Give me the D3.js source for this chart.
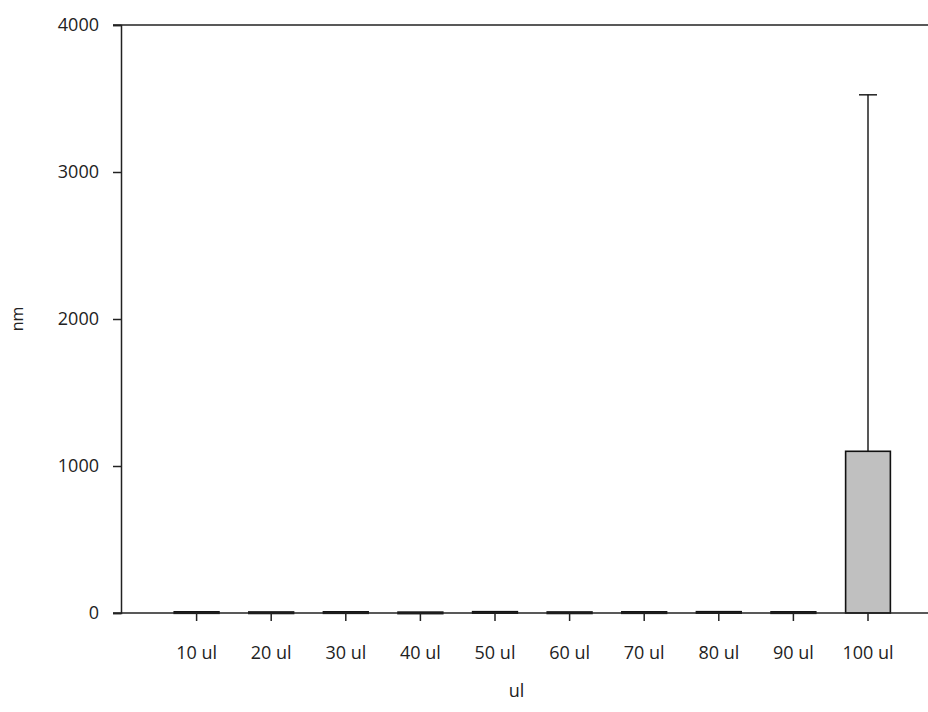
<!DOCTYPE html>
<html>
<head>
<meta charset="utf-8">
<script src="https://cdn.jsdelivr.net/npm/d3@7"></script>
<style>
  html, body { margin: 0; padding: 0; background: #fff; }
  svg text { font-family: "Open Sans", "Liberation Sans", sans-serif; fill: #222; }
</style>
</head>
<body>
<svg id="chart" width="928" height="712"></svg>
<script>
// Volumes tested
const categories = ["10 ul", "20 ul", "30 ul", "40 ul", "50 ul", "60 ul", "70 ul", "80 ul", "90 ul", "100 ul"];
// Mean response (nm) per volume
const means = [8, 7, 8, 6, 9, 7, 8, 9, 8, 1100];
// Upper error (nm above the mean); null where no bar is drawn
const errors = [null, null, null, null, null, null, null, null, null, 2425];
// Y-axis ticks
const yTicks = [0, 1000, 2000, 3000, 4000];

const svg = d3.select("#chart");
const plot = { left: 121, right: 928, top: 25, bottom: 613 };

const y = d3.scaleLinear().domain([0, 4000]).range([plot.bottom, plot.top]);
const x = d3.scaleBand()
  .domain(categories)
  .range([159.3, 905.3])
  .paddingInner(0.4)
  .paddingOuter(0.2);

const data = categories.map((c, i) => ({ c, v: means[i], e: errors[i] }));

// Bars
svg.append("g").selectAll("rect")
  .data(data)
  .join("rect")
  .attr("x", d => x(d.c))
  .attr("width", x.bandwidth())
  .attr("y", d => y(d.v))
  .attr("height", d => Math.max(1.5, y(0) - y(d.v)))
  .attr("fill", "#c0c0c0")
  .attr("stroke", "#111")
  .attr("stroke-width", 1.6);

// Upper error bars
const capW = 18;
const eb = svg.append("g").attr("stroke", "#111").attr("stroke-width", 1.4);
data.filter(d => d.e != null).forEach(d => {
  const cx = x(d.c) + x.bandwidth() / 2;
  eb.append("line").attr("x1", cx).attr("x2", cx).attr("y1", y(d.v)).attr("y2", y(d.v + d.e));
  eb.append("line").attr("x1", cx - capW / 2).attr("x2", cx + capW / 2)
    .attr("y1", y(d.v + d.e)).attr("y2", y(d.v + d.e));
});

// Frame lines: top and bottom (zero) running to the right edge
const frame = svg.append("g").attr("stroke", "#222").attr("stroke-width", 1.5);
frame.append("line").attr("x1", 113).attr("x2", plot.right).attr("y1", y(4000)).attr("y2", y(4000));
frame.append("line").attr("x1", 113).attr("x2", plot.right).attr("y1", y(0)).attr("y2", y(0));

// Y axis
const yAxis = svg.append("g")
  .attr("transform", `translate(${plot.left},0)`)
  .call(d3.axisLeft(y).tickValues(yTicks).tickFormat(d3.format("d")).tickSize(8).tickPadding(14));
yAxis.select(".domain").attr("stroke", "#222").attr("stroke-width", 1.5);
yAxis.selectAll(".tick line").attr("stroke", "#222").attr("stroke-width", 1.5);
yAxis.selectAll(".tick text").style("font-size", "18px").attr("fill", "#222");

// X axis
const xAxis = svg.append("g")
  .attr("transform", `translate(0,${plot.bottom})`)
  .call(d3.axisBottom(x).tickSize(8).tickPadding(25));
xAxis.select(".domain").remove();
xAxis.selectAll(".tick line").attr("stroke", "#222").attr("stroke-width", 1.5);
xAxis.selectAll(".tick text").style("font-size", "18px").attr("fill", "#222");

// Axis titles
svg.append("text")
  .attr("x", (plot.left + plot.right) / 2 - 8)
  .attr("y", 697)
  .attr("text-anchor", "middle")
  .style("font-size", "18px")
  .text("ul");

svg.append("text")
  .attr("transform", `translate(23,${(plot.top + plot.bottom) / 2}) rotate(-90)`)
  .attr("text-anchor", "middle")
  .style("font-size", "16px")
  .text("nm");
</script>
</body>
</html>
